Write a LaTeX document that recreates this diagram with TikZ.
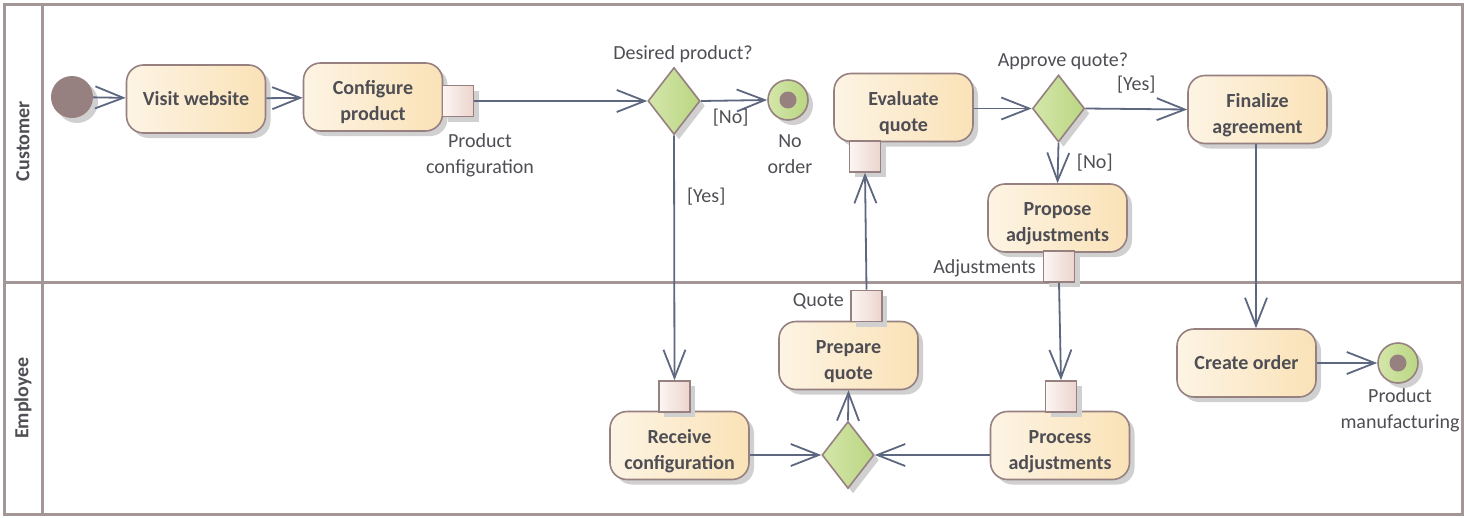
\documentclass[tikz,border=0pt]{standalone}
\usepackage{fontspec}
\setmainfont{Carlito}
\usetikzlibrary{arrows.meta,shapes.geometric,shadows}
\definecolor{lanec}{RGB}{163,150,150}
\definecolor{edgec}{RGB}{93,103,128}
\definecolor{bordc}{RGB}{150,128,128}
\definecolor{actL}{RGB}{253,244,228}
\definecolor{actR}{RGB}{250,226,183}
\definecolor{pinL}{RGB}{252,246,243}
\definecolor{pinR}{RGB}{236,212,205}
\definecolor{decL}{RGB}{212,230,170}
\definecolor{decR}{RGB}{186,214,130}
\definecolor{txt}{RGB}{78,78,84}
\definecolor{shad}{RGB}{208,208,208}
\newcommand{\toprl}{\rule{0pt}{25pt}}
\tikzset{
  shd/.style={general shadow={fill=shad, shadow xshift=5pt, shadow yshift=-5pt}},
  action/.style={draw=bordc, line width=1.6pt, rounded corners=17pt, left color=actL, right color=actR,
    minimum width=139pt, minimum height=68pt, inner sep=0pt, align=center,
    font=\bfseries\fontsize{20}{26}\selectfont, text=txt, shd},
  pinbox/.style={draw=bordc, line width=1.6pt, left color=pinL, right color=pinR,
    minimum size=31pt, inner sep=0pt, shd},
  decision/.style={diamond, draw=bordc, line width=1.6pt, left color=decL, right color=decR,
    minimum width=52pt, minimum height=67pt, inner sep=0pt, shd},
  startnode/.style={circle, fill=bordc, minimum size=42pt, inner sep=0pt, shd},
  finalnode/.style={circle, draw=bordc, line width=1.6pt, left color=decL, right color=decR,
    minimum size=40pt, inner sep=0pt, shd},
  dotnode/.style={circle, fill=bordc, minimum size=17pt, inner sep=0pt},
  lbl/.style={font=\fontsize{20}{26}\selectfont, text=txt, align=center, inner sep=0pt},
  lanelbl/.style={font=\bfseries\fontsize{20}{20}\selectfont, text=txt, rotate=90, inner sep=0pt},
  flow/.style={draw=edgec, line width=1.8pt, -{Straight Barb[length=28pt,width=22pt]}},
}
\begin{document}
\begin{tikzpicture}[x=1pt, y=-1pt]
\useasboundingbox (0,0) rectangle (1464,517);
% lanes
\draw[lanec, line width=3pt] (4,4) rectangle (1462,514);
\draw[lanec, line width=3pt] (42,4) -- (42,514);
\draw[lanec, line width=3pt] (4,282) -- (1462,282);
\node[lanelbl] (lc) at (23,141) {Customer};
\node[lanelbl] (le) at (23,398) {Employee};
% nodes
\node[startnode] (start) at (72,97) {};
\node[action] (visit) at (196,99) {Visit website};
\node[action] (config) at (373,97) {\toprl Configure\\product};
\node[pinbox] (pinPC) at (458,101) {};
\node[lbl, anchor=north] (lblPC) at (480,133) {Product\\configuration};
\node[decision] (dec1) at (674,101) {};
\node[lbl, anchor=south] (lblD1) at (683,63) {Desired product?};
\node[finalnode] (nofinal) at (788,100) {};
\node[dotnode] (nodot) at (nofinal) {};
\node[lbl, anchor=north] (lblNO) at (790,134) {No\\order};
\node[action] (evaluate) at (903.5,107.5) {\toprl Evaluate\\quote};
\node[pinbox] (pinEQ) at (865,156.5) {};
\node[decision] (dec3) at (1058.5,108.5) {};
\node[lbl, anchor=south] (lblD3) at (1063,70) {Approve quote?};
\node[action] (finalize) at (1257.5,109.5) {\toprl Finalize\\agreement};
\node[action] (propose) at (1057.5,218) {\toprl Propose\\adjustments};
\node[pinbox] (pinAdj) at (1059,266.5) {};
\node[lbl, anchor=east] (lblAdj) at (1036,268) {Adjustments};
\node[action] (receive) at (679.5,445.5) {\toprl Receive\\configuration};
\node[pinbox] (pinRC) at (674.5,396.5) {};
\node[decision] (dec2) at (848,455) {};
\node[action] (prepare) at (848.5,355.5) {\toprl Prepare\\quote};
\node[pinbox] (pinQ) at (866.5,306) {};
\node[lbl, anchor=east] (lblQ) at (844,301) {Quote};
\node[action] (process) at (1060,445.5) {\toprl Process\\adjustments};
\node[pinbox] (pinPA) at (1061,396.5) {};
\node[action] (create) at (1246.5,363) {Create order};
\node[finalnode] (prodfinal) at (1398,363) {};
\node[dotnode] (proddot) at (prodfinal) {};
\node[lbl, anchor=north] (lblPM) at (1400,388) {Product\\manufacturing};
\coordinate (fx) at (1256,0);
% edges
\draw[flow] (start) -- (visit);
\draw[flow] (visit) -- (config);
\draw[flow] (pinPC.east) -- (dec1.west);
\draw[flow] (dec1.east) -- (nofinal.west) node[lbl, pos=0.45, below=8pt] {[No]};
\draw[flow] (dec1.south) -- (pinRC.north) node[lbl, pos=0.25, right=12pt] {[Yes]};
\draw[flow] (dec2.north) -- (prepare.south);
\draw[flow] (receive.east |- dec2) -- (dec2.west);
\draw[flow] (process.west |- dec2) -- (dec2.east);
\draw[flow] (pinQ.north) -- (pinEQ.south);
\draw[flow] (evaluate.east |- dec3) -- (dec3.west);
\draw[flow] (dec3.east) -- (finalize.west) node[lbl, pos=0.5, above=15pt] {[Yes]};
\draw[flow] (dec3.south) -- (propose.north) node[lbl, pos=0.5, right=18pt] {[No]};
\draw[flow] (pinAdj.south) -- (pinPA.north);
\draw[flow] (finalize.south -| fx) -- (create.north -| fx);
\draw[flow] (create.east) -- (prodfinal.west);
\end{tikzpicture}
\end{document}
